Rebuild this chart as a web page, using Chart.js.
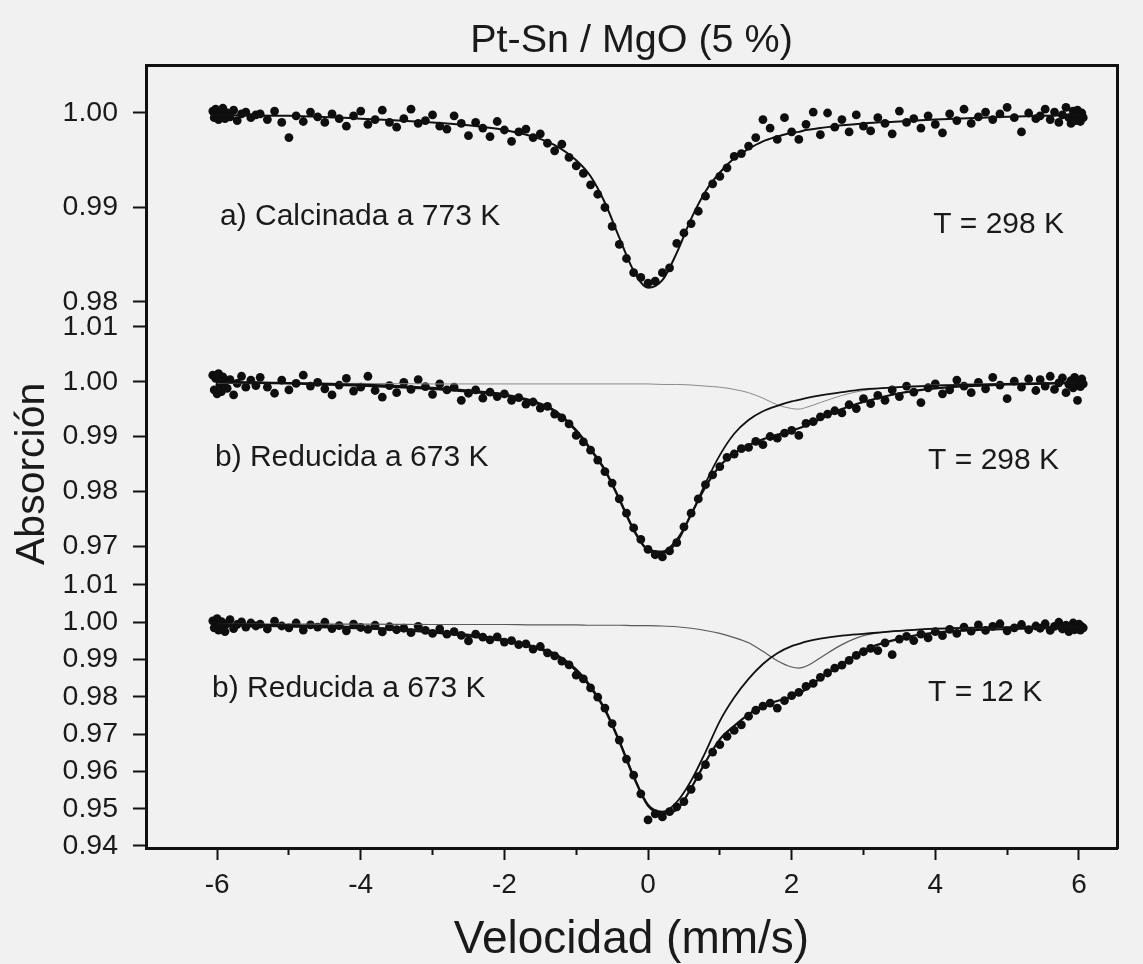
<!DOCTYPE html>
<html lang="es">
<head>
<meta charset="utf-8">
<title>Pt-Sn / MgO (5 %)</title>
<script src="https://cdn.jsdelivr.net/npm/chart.js@4.4.1/dist/chart.umd.min.js"></script>
<style>
  html, body { margin: 0; padding: 0; background: #f1f1f2; }
  canvas { display: block; }
</style>
</head>
<body>
<canvas id="mossbauer" width="1143" height="964"></canvas>
<script>
// Canales de velocidad (mm/s), comunes a los tres espectros
const velocidad = [
  -6.06, -6.04, -6.02, -6.00, -5.98, -5.96, -5.94, -5.92, -5.89, -5.86, -5.82, -5.77, -5.72, -5.66, -5.60, -5.53, -5.46,
  -5.4, -5.3, -5.2, -5.1, -5.0, -4.9, -4.8, -4.7, -4.6, -4.5,
  -4.4, -4.3, -4.2, -4.1, -4.0, -3.9, -3.8, -3.7, -3.6, -3.5,
  -3.4, -3.3, -3.2, -3.1, -3.0, -2.9, -2.8, -2.7, -2.6, -2.5,
  -2.4, -2.3, -2.2, -2.1, -2.0, -1.9, -1.8, -1.7, -1.6, -1.5,
  -1.4, -1.3, -1.2, -1.1, -1.0, -0.9, -0.8, -0.7, -0.6, -0.5,
  -0.4, -0.3, -0.2, -0.1, 0.0, 0.1, 0.2, 0.3, 0.4, 0.5,
  0.6, 0.7, 0.8, 0.9, 1.0, 1.1, 1.2, 1.3, 1.4, 1.5,
  1.6, 1.7, 1.8, 1.9, 2.0, 2.1, 2.2, 2.3, 2.4, 2.5,
  2.6, 2.7, 2.8, 2.9, 3.0, 3.1, 3.2, 3.3, 3.4, 3.5,
  3.6, 3.7, 3.8, 3.9, 4.0, 4.1, 4.2, 4.3, 4.4, 4.5,
  4.6, 4.7, 4.8, 4.9, 5.0, 5.1, 5.2, 5.3, 5.4,
  5.46, 5.53, 5.60, 5.66, 5.72, 5.77, 5.82, 5.86, 5.89, 5.92, 5.94, 5.96, 5.98, 6.00, 6.02, 6.04, 6.06
];

// a) Calcinada a 773 K, T = 298 K
const absCalcinada = [
  1.0002, 0.9995, 1.0004, 0.9999, 0.9993, 1.0001, 0.9997, 1.0005, 0.9994, 1.0000, 0.9996, 1.0003, 0.9992, 0.9999, 1.0001, 0.9995, 0.9998,
  0.9999, 0.9993, 1.0002, 0.9990, 0.9974, 0.9997, 0.9991, 1.0001, 0.9996, 0.9990,
  0.9999, 0.9994, 0.9986, 0.9997, 1.0002, 0.9988, 0.9993, 1.0003, 0.9990, 0.9985,
  0.9994, 1.0004, 0.9989, 0.9992, 0.9998, 0.9986, 0.9983, 0.9997, 0.9989, 0.9976,
  0.9990, 0.9984, 0.9975, 0.9991, 0.9982, 0.9970, 0.9980, 0.9983, 0.9974, 0.9978,
  0.9968, 0.9960, 0.9967, 0.9953, 0.9944, 0.9936, 0.9924, 0.9914, 0.9900, 0.9880,
  0.9861, 0.9846, 0.9831, 0.9826, 0.9820, 0.9822, 0.9831, 0.9836, 0.9862, 0.9873,
  0.9883, 0.9896, 0.9912, 0.9925, 0.9933, 0.9942, 0.9954, 0.9957, 0.9965, 0.9974,
  0.9993, 0.9984, 0.9972, 0.9995, 0.9980, 0.9972, 0.9988, 1.0001, 0.9977, 1.0000,
  0.9985, 0.9993, 0.9980, 0.9998, 0.9986, 0.9981, 0.9995, 0.9989, 0.9978, 1.0002,
  0.9990, 0.9994, 0.9984, 0.9997, 0.9988, 0.9979, 0.9999, 0.9992, 1.0004, 0.9989,
  0.9996, 1.0001, 0.9993, 0.9999, 1.0006, 0.9995, 0.9980, 1.0000, 0.9994,
  0.9997, 1.0004, 0.9993, 1.0001, 0.9990, 0.9998, 1.0006, 0.9995, 0.9989, 1.0002, 0.9996, 0.9992, 1.0003, 0.9999, 0.9991, 1.0000, 0.9995
];

// b) Reducida a 673 K, T = 298 K
const absReducida298 = [
  1.0012, 0.9985, 1.0006, 0.9978, 1.0015, 0.9995, 0.9982, 1.0009, 1.0001, 0.9988, 1.0004, 0.9976, 0.9997, 1.0010, 0.9990, 1.0003, 0.9993,
  1.0008, 0.9990, 0.9979, 1.0003, 0.9985, 0.9997, 1.0012, 0.9992, 0.9999, 0.9987,
  0.9976, 0.9994, 1.0006, 0.9983, 0.9990, 1.0010, 0.9984, 0.9972, 0.9993, 0.9980,
  0.9999, 0.9986, 1.0004, 0.9991, 0.9977, 0.9996, 0.9985, 0.9990, 0.9966, 0.9979,
  0.9985, 0.9970, 0.9981, 0.9973, 0.9978, 0.9966, 0.9971, 0.9959, 0.9963, 0.9952,
  0.9955, 0.9941, 0.9934, 0.9923, 0.9902, 0.9890, 0.9875, 0.9857, 0.9836, 0.9815,
  0.9786, 0.9760, 0.9733, 0.9712, 0.9694, 0.9684, 0.9680, 0.9691, 0.9706, 0.9735,
  0.9760, 0.9786, 0.9812, 0.9830, 0.9845, 0.9862, 0.9868, 0.9878, 0.9880, 0.9891,
  0.9885, 0.9900, 0.9897, 0.9906, 0.9911, 0.9902, 0.9924, 0.9927, 0.9936, 0.9941,
  0.9947, 0.9943, 0.9958, 0.9951, 0.9969, 0.9960, 0.9975, 0.9966, 0.9985, 0.9973,
  0.9992, 0.9981, 0.9962, 0.9989, 0.9996, 0.9978, 0.9985, 1.0003, 0.9992, 0.9980,
  0.9999, 0.9987, 1.0008, 0.9994, 0.9969, 1.0001, 0.9990, 1.0005, 0.9984,
  1.0004, 0.9992, 1.0010, 0.9986, 0.9998, 1.0007, 0.9980, 0.9995, 1.0002, 0.9989, 1.0008, 0.9997, 0.9966, 1.0001, 0.9991, 1.0005, 0.9996
];

// b) Reducida a 673 K, T = 12 K
const absReducida12 = [
  1.0004, 0.9985, 0.9998, 1.0010, 0.9979, 0.9992, 1.0002, 0.9988, 0.9975, 0.9996, 1.0007, 0.9983, 0.9994, 1.0001, 0.9987, 0.9998, 0.9990,
  0.9995, 0.9982, 1.0003, 0.9990, 0.9985, 0.9998, 0.9979, 0.9993, 0.9987, 1.0000,
  0.9983, 0.9991, 0.9977, 0.9995, 0.9986, 0.9981, 0.9992, 0.9974, 0.9988, 0.9980,
  0.9984, 0.9972, 0.9989, 0.9978, 0.9970, 0.9982, 0.9968, 0.9975, 0.9965, 0.9950,
  0.9968, 0.9960, 0.9953, 0.9961, 0.9947, 0.9951, 0.9940, 0.9942, 0.9928, 0.9935,
  0.9918, 0.9910, 0.9896, 0.9886, 0.9858, 0.9848, 0.9824, 0.9799, 0.9770, 0.9728,
  0.9684, 0.9633, 0.9590, 0.9540, 0.9470, 0.9486, 0.9478, 0.9492, 0.9505, 0.9519,
  0.9552, 0.9586, 0.9618, 0.9652, 0.9672, 0.9694, 0.9710, 0.9725, 0.9748, 0.9764,
  0.9775, 0.9783, 0.9770, 0.9790, 0.9803, 0.9812, 0.9828, 0.9836, 0.9852, 0.9864,
  0.9877, 0.9885, 0.9898, 0.9911, 0.9921, 0.9930, 0.9924, 0.9945, 0.9913, 0.9955,
  0.9962, 0.9951, 0.9968, 0.9958, 0.9975, 0.9964, 0.9981, 0.9970, 0.9987, 0.9976,
  0.9993, 0.9978, 0.9989, 0.9996, 0.9977, 0.9985, 0.9994, 0.9980, 0.9990,
  0.9984, 0.9996, 0.9978, 0.9989, 1.0000, 0.9982, 0.9992, 0.9975, 0.9987, 0.9998, 0.9980, 0.9991, 0.9983, 0.9995, 0.9979, 0.9988, 0.9985
];

// Curvas de ajuste (Lorentzianas) sobre una malla de velocidad común
const velAjuste = [-6, -5, -4, -3, -2.5, -2, -1.6, -1.3, -1.0, -0.8, -0.6, -0.4, -0.2, 0, 0.2, 0.4, 0.6,
  0.8, 1.0, 1.2, 1.4, 1.6, 1.8, 2.0, 2.1, 2.2, 2.4, 2.7, 3.0, 3.5, 4, 5, 6];

const ajusteCalcinada = [0.9998, 0.9997, 0.9994, 0.9990, 0.9987, 0.9982, 0.9975, 0.9966, 0.9950, 0.9933, 0.9905,
  0.9868, 0.9833, 0.9815, 0.9823, 0.9852, 0.9888, 0.9917, 0.9937, 0.9952, 0.9962, 0.9970, 0.9975, 0.9979, 0.9980,
  0.9982, 0.9984, 0.9987, 0.9989, 0.9991, 0.9993, 0.9996, 0.9998];

const ajusteRed298 = [0.9999, 0.9997, 0.9993, 0.9987, 0.9982, 0.9975, 0.9963, 0.9946, 0.9910, 0.9876, 0.9838,
  0.9785, 0.9729, 0.9692, 0.9687, 0.9707, 0.9758, 0.9808, 0.9846, 0.9869, 0.9884, 0.9895, 0.9903, 0.9911, 0.9915,
  0.9920, 0.9932, 0.9950, 0.9963, 0.9979, 0.9988, 0.9995, 0.9998];
const sitio1Red298 = [1.0000, 0.9998, 0.9995, 0.9989, 0.9984, 0.9977, 0.9965, 0.9948, 0.9912, 0.9878, 0.9840,
  0.9787, 0.9731, 0.9694, 0.9690, 0.9712, 0.9757, 0.9815, 0.9866, 0.9905, 0.9930, 0.9946, 0.9956, 0.9964, 0.9967,
  0.9970, 0.9975, 0.9981, 0.9986, 0.9990, 0.9993, 0.9996, 0.9998];
const sitio2Red298 = [0.9997, 0.9997, 0.9997, 0.9996, 0.9996, 0.9996, 0.9996, 0.9996, 0.9996, 0.9996, 0.9996,
  0.9996, 0.9996, 0.9996, 0.9995, 0.9995, 0.9994, 0.9992, 0.9990, 0.9986, 0.9980, 0.9970, 0.9958, 0.9951, 0.9950,
  0.9953, 0.9962, 0.9975, 0.9984, 0.9991, 0.9994, 0.9997, 0.9998];

const ajusteRed12 = [0.9993, 0.9989, 0.9984, 0.9973, 0.9963, 0.9950, 0.9932, 0.9912, 0.9870, 0.9825, 0.9765,
  0.9680, 0.9585, 0.9508, 0.9488, 0.9497, 0.9555, 0.9625, 0.9686, 0.9722, 0.9753, 0.9777, 0.9789, 0.9800, 0.9810,
  0.9820, 0.9850, 0.9887, 0.9925, 0.9956, 0.9972, 0.9982, 0.9986];
const sitio1Red12 = [0.9995, 0.9992, 0.9987, 0.9977, 0.9967, 0.9954, 0.9936, 0.9916, 0.9874, 0.9829, 0.9768,
  0.9683, 0.9588, 0.9511, 0.9492, 0.9518, 0.9575, 0.9652, 0.9735, 0.9798, 0.9848, 0.9888, 0.9917, 0.9936, 0.9942,
  0.9948, 0.9956, 0.9964, 0.9969, 0.9977, 0.9983, 0.9987, 0.9989];
const sitio2Red12 = [0.9995, 0.9995, 0.9995, 0.9994, 0.9994, 0.9994, 0.9993, 0.9993, 0.9993, 0.9992, 0.9992,
  0.9992, 0.9991, 0.9991, 0.9990, 0.9988, 0.9984, 0.9978, 0.9970, 0.9959, 0.9945, 0.9922, 0.9897, 0.9880, 0.9877,
  0.9882, 0.9905, 0.9940, 0.9964, 0.9977, 0.9982, 0.9986, 0.9988];

// Marcas de los ejes
const ticksVel = [-6, -4, -2, 0, 2, 4, 6];
const ticksVelMenor = [-5, -3, -1, 1, 3, 5];
const ticksA = [0.98, 0.99, 1.00];
const ticksB = [0.97, 0.98, 0.99, 1.00, 1.01];
const ticksC = [0.94, 0.95, 0.96, 0.97, 0.98, 0.99, 1.00, 1.01];

const FUENTE = '"Liberation Sans", Arial, Helvetica, sans-serif';
const TINTA = '#1a1a1a';
const LINEA = '#111';

Chart.defaults.font.family = FUENTE;
Chart.defaults.color = TINTA;

const puntos = ys => velocidad.map((v, i) => ({ x: v, y: ys[i] }));
const curva = ys => velAjuste.map((v, i) => ({ x: v, y: ys[i] }));

const espectro = (ys, eje) => ({
  type: 'scatter', data: puntos(ys), yAxisID: eje,
  pointRadius: 4.4, pointBackgroundColor: '#0e0e0e', pointBorderWidth: 0
});
const ajuste = (ys, eje, ancho, color) => ({
  type: 'line', data: curva(ys), yAxisID: eje,
  borderColor: color, borderWidth: ancho, pointRadius: 0,
  cubicInterpolationMode: 'monotone', fill: false
});

// Rótulos de cada espectro, en coordenadas de datos
const rotulos = [
  { eje: 'yA', x: -5.96, y: 0.9890, texto: 'a) Calcinada a 773 K' },
  { eje: 'yA', x: 3.97, y: 0.9882, texto: 'T = 298 K' },
  { eje: 'yB', x: -6.03, y: 0.9862, texto: 'b) Reducida a 673 K' },
  { eje: 'yB', x: 3.90, y: 0.9856, texto: 'T = 298 K' },
  { eje: 'yC', x: -6.07, y: 0.9821, texto: 'b) Reducida a 673 K' },
  { eje: 'yC', x: 3.90, y: 0.9811, texto: 'T = 12 K' }
];

const fondo = {
  id: 'fondo',
  beforeDraw(chart) {
    const { ctx, width, height } = chart;
    ctx.save();
    ctx.fillStyle = '#f1f1f2';
    ctx.fillRect(0, 0, width, height);
    ctx.restore();
  }
};

const textos = {
  id: 'textos',
  afterDatasetsDraw(chart) {
    const { ctx, scales } = chart;
    ctx.save();
    ctx.font = '30px ' + FUENTE;
    ctx.fillStyle = TINTA;
    ctx.textAlign = 'left';
    ctx.textBaseline = 'middle';
    rotulos.forEach(r => {
      ctx.fillText(r.texto, scales.x.getPixelForValue(r.x), scales[r.eje].getPixelForValue(r.y));
    });
    ctx.restore();
  }
};

const ejeAbs = (min, max, marcas, peso, alto) => ({
  type: 'linear', position: 'left', stack: 'abs', stackWeight: alto, weight: peso,
  min: min, max: max,
  afterFit: s => { s.width = 146; },
  afterBuildTicks: s => { s.ticks = marcas.map(v => ({ value: v })); },
  ticks: { autoSkip: false, padding: 15, font: { size: 28.5 }, color: TINTA, callback: v => v.toFixed(2) },
  grid: { drawOnChartArea: false, tickLength: 13, tickWidth: 2, color: LINEA },
  border: { display: true, width: 3, color: LINEA }
});

new Chart(document.getElementById('mossbauer'), {
  type: 'scatter',
  data: {
    datasets: [
      ajuste(ajusteCalcinada, 'yA', 2, LINEA),
      ajuste(ajusteRed298, 'yB', 2.2, LINEA),
      ajuste(sitio1Red298, 'yB', 1.8, LINEA),
      ajuste(sitio2Red298, 'yB', 1, '#8a8a8a'),
      ajuste(ajusteRed12, 'yC', 2.2, LINEA),
      ajuste(sitio1Red12, 'yC', 1.8, LINEA),
      ajuste(sitio2Red12, 'yC', 1.2, '#5a5a5a'),
      espectro(absCalcinada, 'yA'),
      espectro(absReducida298, 'yB'),
      espectro(absReducida12, 'yC')
    ]
  },
  options: {
    responsive: false,
    animation: false,
    events: [],
    layout: { padding: 0 },
    plugins: { legend: { display: false }, tooltip: { enabled: false } },
    scales: {
      x: {
        type: 'linear', position: 'bottom', weight: 1, min: -6.99, max: 6.53,
        afterFit: s => { s.height = 116; },
        afterBuildTicks: s => { s.ticks = ticksVel.map(v => ({ value: v })); },
        ticks: { autoSkip: false, maxRotation: 0, padding: 8, font: { size: 28 }, color: TINTA, callback: v => String(v) },
        grid: { drawOnChartArea: false, tickLength: 12, tickWidth: 2, color: LINEA },
        border: { display: true, width: 3, color: LINEA },
        title: { display: true, text: 'Velocidad (mm/s)', color: TINTA, font: { size: 46, lineHeight: 1 }, padding: { top: 0, bottom: 1 } }
      },
      xMenor: {
        type: 'linear', position: 'bottom', weight: 0, min: -6.99, max: 6.53,
        afterFit: s => { s.height = 0; },
        afterBuildTicks: s => { s.ticks = ticksVelMenor.map(v => ({ value: v })); },
        ticks: { display: false },
        grid: { drawOnChartArea: false, tickLength: 7, tickWidth: 2, color: LINEA },
        border: { display: false }
      },
      xSup: {
        type: 'linear', position: 'top', min: -6.99, max: 6.53,
        afterFit: s => { s.height = 65; },
        ticks: { display: false },
        grid: { drawOnChartArea: false, drawTicks: false },
        border: { display: true, width: 3, color: LINEA },
        title: { display: true, text: 'Pt-Sn / MgO (5 %)', color: TINTA, font: { size: 39.5, lineHeight: 1 }, padding: { top: 21, bottom: 0 } }
      },
      yDer: {
        type: 'linear', position: 'right', min: 0, max: 1,
        afterFit: s => { s.width = 26; },
        ticks: { display: false },
        grid: { drawOnChartArea: false, drawTicks: false },
        border: { display: true, width: 3, color: LINEA }
      },
      yA: ejeAbs(0.97862, 1.00508, ticksA, 3, 250),
      yB: Object.assign(ejeAbs(0.96653, 1.01219, ticksB, 2, 250), {
        title: { display: true, text: 'Absorción', align: 'start', color: TINTA, font: { size: 41, lineHeight: 1 }, padding: { top: 12, bottom: 0 } }
      }),
      yC: ejeAbs(0.93946, 1.01536, ticksC, 1, 283)
    }
  },
  plugins: [fondo, textos]
});
</script>
</body>
</html>
